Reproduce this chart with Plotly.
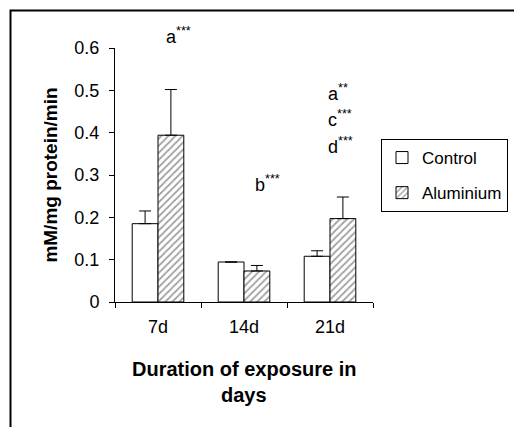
import plotly.graph_objects as go

categories = ["7d", "14d", "21d"]
control = [0.185, 0.0945, 0.108]
control_err = [0.030, 0.0, 0.013]
aluminium = [0.394, 0.0733, 0.197]
aluminium_err = [0.108, 0.013, 0.051]
y_tickvals = [0, 0.1, 0.2, 0.3, 0.4, 0.5, 0.6]
y_ticktext = ["0", "0.1", "0.2", "0.3", "0.4", "0.5", "0.6"]

W, H = 514, 427
ML, MR, MT, MB = 115, 141, 48, 125
PW, PH = W - ML - MR, H - MT - MB
YMAX = 0.6
FONT = "Liberation Sans, Arial, sans-serif"


def px_x(px):
    return (px - ML) / PW


def px_y(py):
    return (H - MB - py) / PH


fig = go.Figure()
fig.add_trace(go.Bar(
    name="Control", x=categories, y=control, legendgroup="c",
    marker=dict(color="white", line=dict(color="black", width=1)),
    error_y=dict(type="data", array=control_err, arrayminus=[0] * 3,
                 symmetric=False, color="black", thickness=1, width=6),
))
fig.add_trace(go.Bar(
    name="Aluminium", x=categories, y=aluminium, legendgroup="a",
    marker=dict(color="white", line=dict(color="black", width=1),
                pattern=dict(shape="/", fgcolor="#444444", bgcolor="white",
                             size=5, solidity=0.35)),
    error_y=dict(type="data", array=aluminium_err, arrayminus=[0] * 3,
                 symmetric=False, color="black", thickness=1, width=6),
))

annos = []
def add_text(text, x_px, y_px, xanchor="center", size=18):
    annos.append(dict(text=text, x=px_x(x_px), y=px_y(y_px), xref="paper", yref="paper",
                      xanchor=xanchor, yanchor="middle", showarrow=False,
                      font=dict(family=FONT, size=size, color="black")))

add_text("a<sup>***</sup>", 178, 35)
add_text("b<sup>***</sup>", 267, 183)
add_text("a<sup>**</sup>", 326, 92, xanchor="left")
add_text("c<sup>***</sup>", 326, 119, xanchor="left")
add_text("d<sup>***</sup>", 326, 145, xanchor="left")
add_text("<b>Duration of exposure in</b>", 244, 369, size=20)
add_text("<b>days</b>", 244, 395, size=20)

fig.update_layout(
    width=W, height=H,
    margin=dict(l=ML, r=MR, t=MT, b=MB, autoexpand=False),
    paper_bgcolor="white", plot_bgcolor="white",
    font=dict(family=FONT, size=18, color="black"),
    barmode="group", bargap=0.4, bargroupgap=0,
    showlegend=True,
    legend=dict(x=px_x(381), y=px_y(139), xanchor="left", yanchor="top",
                bordercolor="black", borderwidth=1, bgcolor="white",
                font=dict(family=FONT, size=17), itemwidth=30,
                tracegroupgap=10),
    annotations=annos,
    shapes=[dict(type="rect", xref="paper", yref="paper",
                 x0=px_x(10.5), x1=px_x(530), y0=px_y(450), y1=px_y(10.5),
                 line=dict(color="black", width=2), layer="below")],
)
fig.update_xaxes(
    showline=True, linecolor="black", linewidth=1,
    ticks="outside", ticklen=5, tickcolor="black", tickson="boundaries",
    ticklabelstandoff=8, showgrid=False, zeroline=False,
    tickfont=dict(family=FONT, size=18),
)
fig.update_yaxes(
    range=[0, YMAX], tickvals=y_tickvals, ticktext=y_ticktext,
    showline=True, linecolor="black", linewidth=1,
    ticks="outside", ticklen=5, tickcolor="black",
    ticklabelstandoff=6, showgrid=False, zeroline=False,
    tickfont=dict(family=FONT, size=18),
    title=dict(text="<b>mM/mg protein/min</b>", font=dict(family=FONT, size=19), standoff=11),
)

fig.write_html("out.html")
